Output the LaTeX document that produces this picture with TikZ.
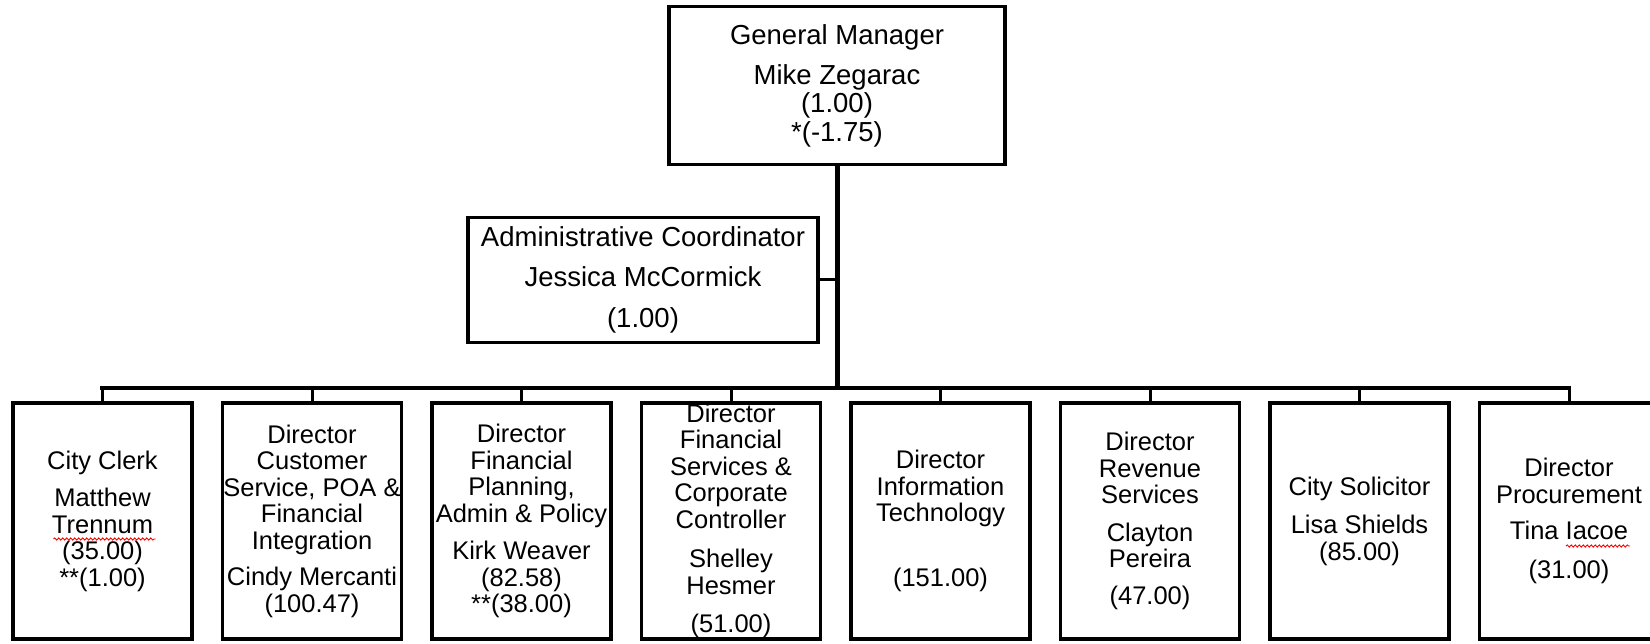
\documentclass[tikz,border=0pt]{standalone}
\usepackage{fontspec}
\setmainfont{Liberation Sans}
\usetikzlibrary{calc,decorations.pathmorphing}
\begin{document}
\begin{tikzpicture}[x=1pt,y=-1pt,
  box/.style={draw=black, line width=3.5pt, fill=white, rectangle, inner sep=0pt, align=center, text=black},
  topbox/.style={box, font=\fontsize{27.5}{28.5}\selectfont},
  staff/.style={box, minimum width=179pt, minimum height=236pt, font=\fontsize{25.5}{26.5}\selectfont},
  trunk/.style={line width=5pt},
  barline/.style={line width=4.5pt, line cap=rect},
  riser/.style={line width=3pt},
  squiggle/.style={red, line width=0.9pt, decorate, decoration={snake, amplitude=1.1pt, segment length=4pt}}]
\useasboundingbox (0,0) rectangle (1650,644);
\clip (0,0) rectangle (1650,644);
\fill[white] (0,0) rectangle (1650,644);

\node[topbox, minimum width=336pt, minimum height=158pt] (gm) at (837,85.5)
  {General Manager\\[11.5pt]Mike Zegarac\\(1.00)\\*(-1.75)};
\node[topbox, minimum width=350pt, minimum height=125pt] (ac) at (643,280)
  {Administrative Coordinator\\[11.5pt]Jessica McCormick\\[13pt](1.00)};

\node[staff] (b1) at (102.5,521) {City Clerk\\[11pt]Matthew\\Trennum\\(35.00)\\**(1.00)};
\node[staff] (b2) at (312,521) {Director\\Customer\\Service, POA \&\\Financial\\Integration\\[10pt]Cindy Mercanti\\(100.47)};
\node[staff] (b3) at (521.5,521) {Director\\Financial\\Planning,\\Admin \& Policy\\[11pt]Kirk Weaver\\(82.58)\\**(38.00)};
\node[staff] (b4) at (731,521) {Director\\Financial\\Services \&\\Corporate\\Controller\\[13pt]Shelley\\Hesmer\\[12pt](51.00)};
\node[staff] (b5) at (940.5,521) {Director\\Information\\Technology\\[38pt](151.00)};
\node[staff] (b6) at (1150,521) {Director\\Revenue\\Services\\[11pt]Clayton\\Pereira\\[10pt](47.00)};
\node[staff] (b7) at (1359.5,521) {City Solicitor\\[12pt]Lisa Shields\\(85.00)};
\node[staff] (b8) at (1569,521) {Director\\Procurement\\[10pt]Tina Iacoe\\[12pt](31.00)};

\coordinate (j) at (837,388);
\draw[trunk] (gm.south) -- (j);
\draw[riser] (ac.east) -- (ac.east -| gm.south);
\draw[barline] (b1.north |- j) -- (b8.north |- j);
\foreach \b in {b1,b2,b3,b4,b5,b6,b7,b8}
  \draw[riser] (\b.north) -- (\b.north |- j);

\draw[squiggle] ($(b1.center)+(-49,18)$) -- ($(b1.center)+(53,18)$);
\draw[squiggle] ($(b8.center)+(-3,25)$) -- ($(b8.center)+(61,25)$);
\end{tikzpicture}
\end{document}
